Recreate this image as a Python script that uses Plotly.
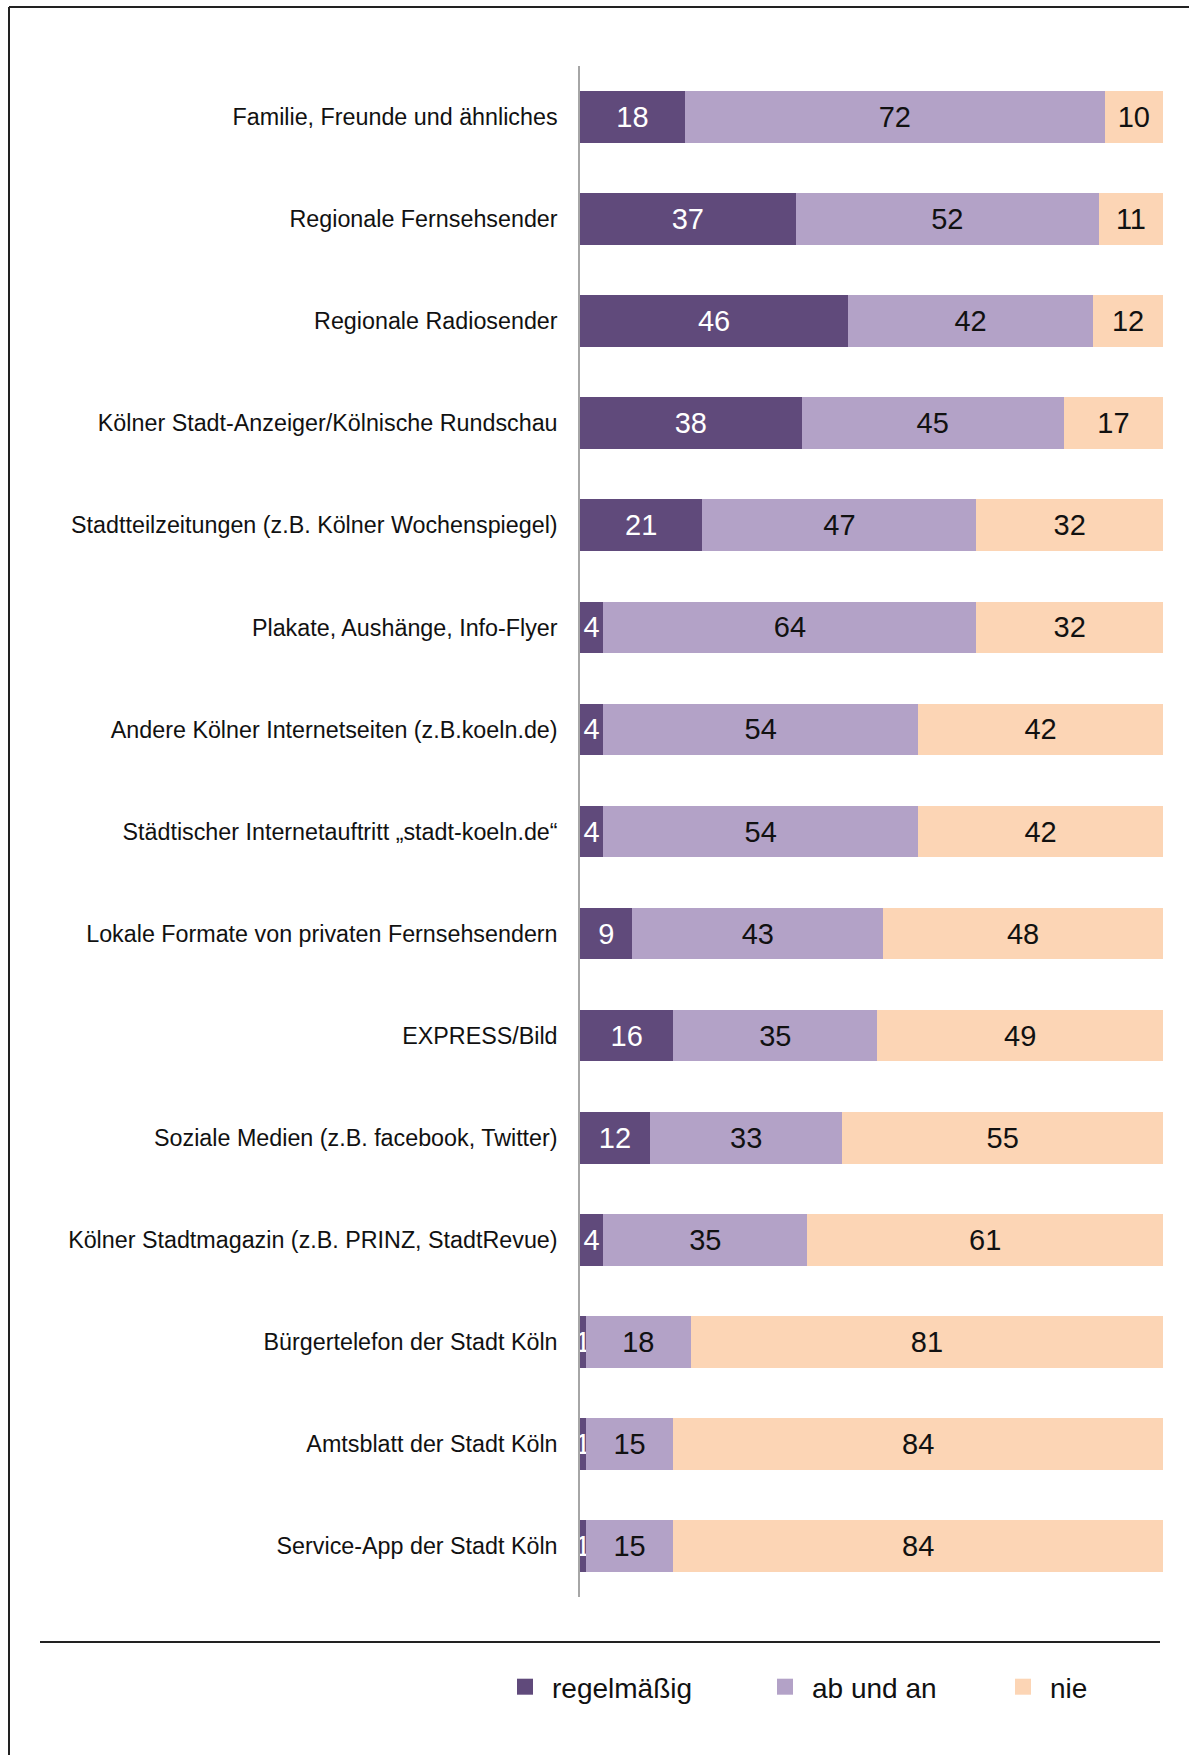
import plotly.graph_objects as go

categories = [
    "Familie, Freunde und ähnliches",
    "Regionale Fernsehsender",
    "Regionale Radiosender",
    "Kölner Stadt-Anzeiger/Kölnische Rundschau",
    "Stadtteilzeitungen (z.B. Kölner Wochenspiegel)",
    "Plakate, Aushänge, Info-Flyer",
    "Andere Kölner Internetseiten (z.B.koeln.de)",
    "Städtischer Internetauftritt „stadt-koeln.de“",
    "Lokale Formate von privaten Fernsehsendern",
    "EXPRESS/Bild",
    "Soziale Medien (z.B. facebook, Twitter)",
    "Kölner Stadtmagazin (z.B. PRINZ, StadtRevue)",
    "Bürgertelefon der Stadt Köln",
    "Amtsblatt der Stadt Köln",
    "Service-App der Stadt Köln",
]
regelmaessig = [18, 37, 46, 38, 21, 4, 4, 4, 9, 16, 12, 4, 1, 1, 1]
ab_und_an = [72, 52, 42, 45, 47, 64, 54, 54, 43, 35, 33, 35, 18, 15, 15]
nie = [10, 11, 12, 17, 32, 32, 42, 42, 48, 49, 55, 61, 81, 84, 84]

series_names = ["regelmäßig", "ab und an", "nie"]
series_values = [regelmaessig, ab_und_an, nie]
colors = ["#604A7B", "#B3A2C7", "#FCD5B5"]
text_colors = ["#FFFFFF", "#111111", "#111111"]

W_PAGE, H_PAGE = 1189, 1755
L, R, T, B = 580, 1163, 66, 1597
PW, PH = R - L, B - T

def px(x):
    return (x - L) / PW

def py(y):
    return 1 - (y - T) / PH

VAL_FONT = "Liberation Sans Narrow, Liberation Sans, Arial, sans-serif"
LBL_FONT = "Liberation Sans, Arial, sans-serif"

fig = go.Figure()
for name, vals, col, tcol in zip(series_names, series_values, colors, text_colors):
    fig.add_trace(go.Bar(
        y=categories, x=vals, name=name, orientation="h",
        marker=dict(color=col, line=dict(width=0)),
        text=[str(v) for v in vals],
        textposition="inside", insidetextanchor="middle",
        constraintext="none", textangle=0,
        insidetextfont=dict(family=VAL_FONT, size=29, color=tcol),
        showlegend=False, hoverinfo="skip",
    ))

legend_ids = ["legend", "legend2", "legend3"]
for name, col, lid in zip(series_names, colors, legend_ids):
    fig.add_trace(go.Scatter(
        x=[None], y=[None], mode="markers", name=name,
        marker=dict(symbol="square", size=16, color=col),
        showlegend=True, legend=lid, hoverinfo="skip",
    ))

legend_common = dict(
    orientation="h", xanchor="left", yanchor="middle",
    bgcolor="rgba(0,0,0,0)", borderwidth=0,
    font=dict(family=LBL_FONT, size=28, color="#111111"),
    itemwidth=44,
)
legend_x = [498, 758, 996]
layout_legends = {}
for lid, lx in zip(legend_ids, legend_x):
    layout_legends[lid] = dict(legend_common, x=px(lx), y=py(1687))

shapes = [
    # outer frame (top and left)
    dict(type="line", xref="paper", yref="paper", x0=px(9), x1=px(1195), y0=py(7), y1=py(7),
         line=dict(color="#222222", width=2)),
    dict(type="line", xref="paper", yref="paper", x0=px(9), x1=px(9), y0=py(7), y1=py(1760),
         line=dict(color="#222222", width=2)),
    # separator line above legend
    dict(type="line", xref="paper", yref="paper", x0=px(40), x1=px(1160), y0=py(1642), y1=py(1642),
         line=dict(color="#222222", width=2)),
]

fig.update_layout(
    width=W_PAGE, height=H_PAGE,
    margin=dict(l=L, r=W_PAGE - R, t=T, b=H_PAGE - B, pad=0),
    barmode="stack", bargap=0.494,
    plot_bgcolor="white", paper_bgcolor="white",
    xaxis=dict(range=[0, 100], visible=False, fixedrange=True),
    yaxis=dict(
        categoryorder="array", categoryarray=categories,
        range=[len(categories) - 0.5, -0.5],
        showline=True, linecolor="#A6A6A6", linewidth=1.5,
        showgrid=False, zeroline=False, ticks="",
        ticklabelstandoff=16,
        tickfont=dict(family=LBL_FONT, size=23.3, color="#111111"),
    ),
    shapes=shapes,
    **layout_legends,
)

fig.write_html(
    "out.html",
    config={"displayModeBar": False},
    post_script="document.body.style.margin='0';document.body.style.padding='0';",
)
